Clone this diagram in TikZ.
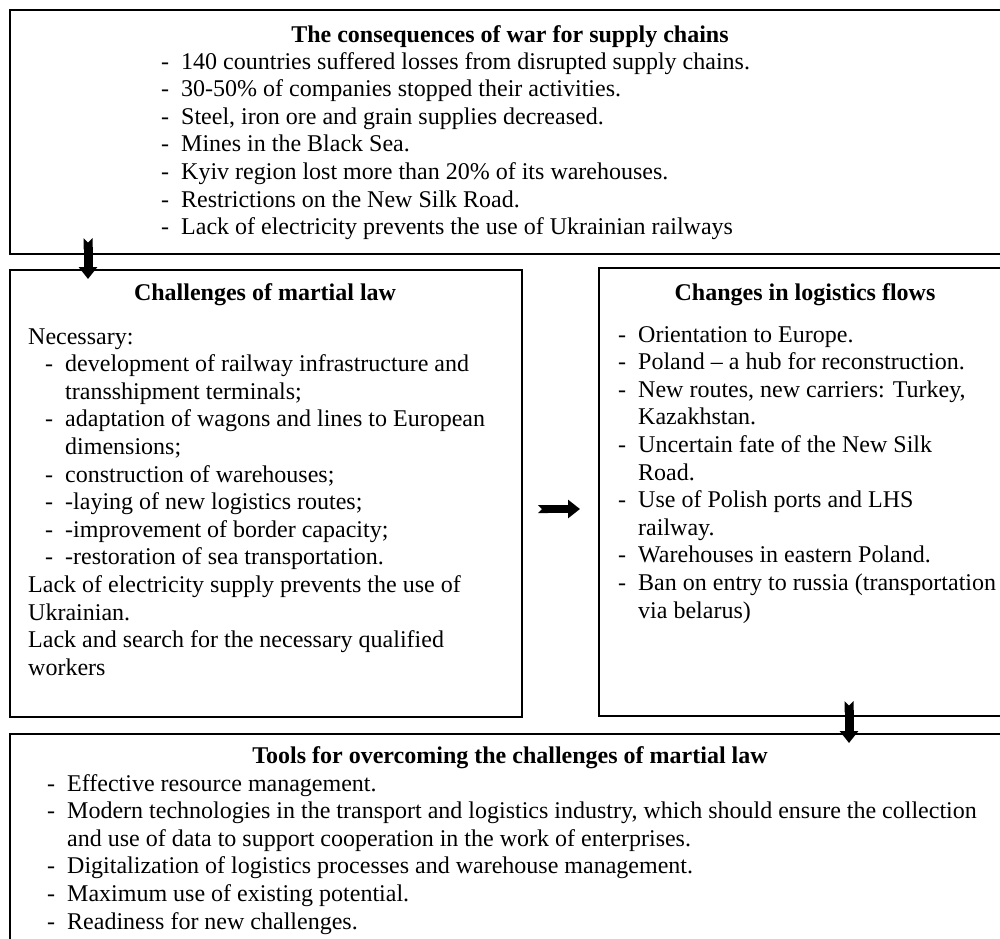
\documentclass[tikz,border=0pt]{standalone}
\usepackage{fontspec}
\setmainfont{Liberation Serif}
\usetikzlibrary{arrows.meta}

\newcommand{\ditem}[1]{\makebox[20pt][l]{-}#1}
\newcommand{\dcont}{\hspace*{20pt}}

\tikzset{
  frame/.style={draw, line width=1.8pt, inner sep=0pt, anchor=north west},
  txt/.style={inner sep=0pt, anchor=base west, align=left, font=\fontsize{24}{27.6}\selectfont},
  head/.style={inner sep=0pt, anchor=base, font=\fontsize{24}{27.6}\selectfont\bfseries},
  fatarrow/.style={line width=9pt, {Triangle Cap[reversed]}-{Triangle[width=18pt,length=12pt]}}
}

\begin{document}
\begin{tikzpicture}[x=1pt,y=-1pt]
\useasboundingbox (0,0) rectangle (1000,938);
\clip (0,0) rectangle (1000,938);

\node[frame, minimum width=1010pt, minimum height=244pt] (consequences) at (9,9) {};
\node[frame, minimum width=512pt, minimum height=447pt] (challenges) at (9,269) {};
\node[frame, minimum width=420pt, minimum height=448pt] (changes) at (598,267) {};
\node[frame, minimum width=1010pt, minimum height=220pt] (tools) at (9,733) {};

% lists are placed by the baseline of their last line
\node[head] (consequencestitle) at (510,42) {The consequences of war for supply chains};
\node[txt] (consequenceslist) at (161,234.6) {\ditem{140 countries suffered losses from disrupted supply chains.}\\
  \ditem{30-50\% of companies stopped their activities.}\\
  \ditem{Steel, iron ore and grain supplies decreased.}\\
  \ditem{Mines in the Black Sea.}\\
  \ditem{Kyiv region lost more than 20\% of its warehouses.}\\
  \ditem{Restrictions on the New Silk Road.}\\
  \ditem{Lack of electricity prevents the use of Ukrainian railways}};

\node[head] (challengestitle) at (265,300) {Challenges of martial law};
\node[txt] (challengeslist) at (28,675.2) {Necessary:\\
  \hspace*{17pt}\ditem{development of railway infrastructure and}\\
  \hspace*{17pt}\dcont transshipment terminals;\\
  \hspace*{17pt}\ditem{adaptation of wagons and lines to European}\\
  \hspace*{17pt}\dcont dimensions;\\
  \hspace*{17pt}\ditem{construction of warehouses;}\\
  \hspace*{17pt}\ditem{-laying of new logistics routes;}\\
  \hspace*{17pt}\ditem{-improvement of border capacity;}\\
  \hspace*{17pt}\ditem{-restoration of sea transportation.}\\
  Lack of electricity supply prevents the use of\\
  Ukrainian.\\
  Lack and search for the necessary qualified\\
  workers};

\node[head] (changestitle) at (805,300) {Changes in logistics flows};
\node[txt] (changeslist) at (618,618) {\ditem{Orientation to Europe.}\\
  \ditem{Poland -- a hub for reconstruction.}\\
  \ditem{New routes, new carriers: Turkey,}\\
  \dcont Kazakhstan.\\
  \ditem{Uncertain fate of the New Silk}\\
  \dcont Road.\\
  \ditem{Use of Polish ports and LHS}\\
  \dcont railway.\\
  \ditem{Warehouses in eastern Poland.}\\
  \ditem{Ban on entry to russia (transportation}\\
  \dcont via belarus)};

\node[head] (toolstitle) at (510,763) {Tools for overcoming the challenges of martial law};
\node[txt] (toolslist) at (47,929) {\ditem{Effective resource management.}\\
  \ditem{Modern technologies in the transport and logistics industry, which should ensure the collection}\\
  \dcont and use of data to support cooperation in the work of enterprises.\\
  \ditem{Digitalization of logistics processes and warehouse management.}\\
  \ditem{Maximum use of existing potential.}\\
  \ditem{Readiness for new challenges.}};

\coordinate (downtail) at (88,238);
\coordinate (downtip) at (88,279);
\coordinate (righttail) at (538,509);
\coordinate (righttip) at (580,509);
\coordinate (lowtail) at (849,701);
\coordinate (lowtip) at (849,743);
\draw[fatarrow] (downtail) -- (downtip);
\draw[fatarrow, line width=8pt] (righttail) -- (righttip);
\draw[fatarrow] (lowtail) -- (lowtip);
\end{tikzpicture}
\end{document}
